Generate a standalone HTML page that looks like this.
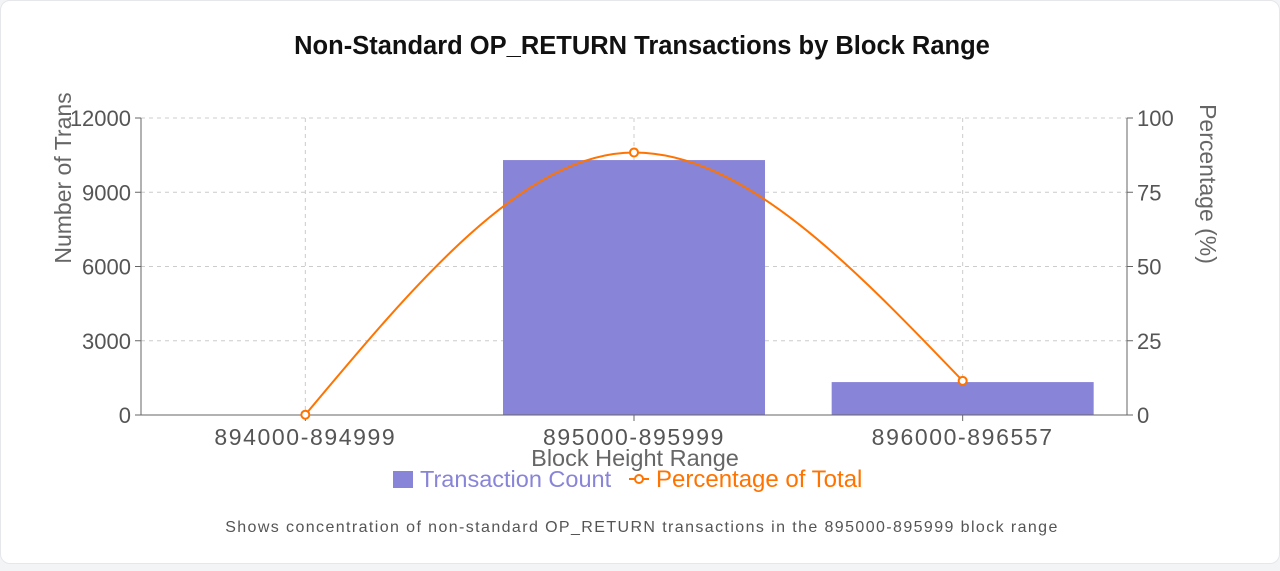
<!DOCTYPE html>
<html><head><meta charset="utf-8"><style>
body{margin:0;background:#f3f4f6;font-family:"Liberation Sans",sans-serif;}
.card{position:absolute;left:0;top:0;width:1278px;height:562px;background:#fff;border:1px solid #e5e7eb;border-radius:10px;}
</style></head><body>
<div class="card">
<svg width="1280" height="570" id="chart" style="position:absolute;left:0;top:0">
<text x="641" y="53" text-anchor="middle" font-size="25.5" font-weight="bold" fill="#111">Non-Standard OP_RETURN Transactions by Block Range</text>
<text x="641" y="531" text-anchor="middle" font-size="16" letter-spacing="1.4" fill="#555">Shows concentration of non-standard OP_RETURN transactions in the 895000-895999 block range</text>
</svg></div>
<script>
const categories=["894000-894999","895000-895999","896000-896557"];
const counts=[15,10300,1330];
const percents=[0.1,88.4,11.5];
const leftTicks=[0,3000,6000,9000,12000];
const rightTicks=[0,25,50,75,100];
const svg=document.getElementById('chart');
const NS='http://www.w3.org/2000/svg';
const X0=140,X1=1126,Y0=414,Y1=117;
const band=(X1-X0)/categories.length;
const xc=i=>X0+band*(i+0.5);
const yL=v=>Y0-(v/12000)*(Y0-Y1);
const yR=v=>Y0-(v/100)*(Y0-Y1);
function el(t,a,txt){const e=document.createElementNS(NS,t);for(const k in a)e.setAttribute(k,a[k]);if(txt!=null)e.textContent=txt;svg.appendChild(e);return e;}
leftTicks.forEach(v=>{const g=el('line',{x1:X0,x2:X1,y1:yL(v),y2:yL(v),stroke:'#ccc','stroke-dasharray':'4,4'});


const t=el('text',{x:X0-10,y:yL(v)+8,'text-anchor':'end','font-size':22,fill:'#555'},v);


el('line',{x1:X0-6,x2:X0,y1:yL(v),y2:yL(v),stroke:'#666'});});
rightTicks.forEach(v=>{const t=el('text',{x:X1+10,y:yR(v)+8,'font-size':22,fill:'#555'},v);


el('line',{x1:X1,x2:X1+6,y1:yR(v),y2:yR(v),stroke:'#666'});});
categories.forEach((c,i)=>{const g=el('line',{x1:xc(i),x2:xc(i),y1:Y1,y2:Y0,stroke:'#ccc','stroke-dasharray':'4,4'});

});
categories.forEach((c,i)=>{const b=el('rect',{x:xc(i)-131,y:yL(counts[i]),width:262,height:Y0-yL(counts[i]),fill:'#8884d8'});


el('line',{x1:xc(i),x2:xc(i),y1:Y0,y2:Y0+6,stroke:'#666'});
const t=el('text',{x:xc(i),y:Y0+30,'text-anchor':'middle','font-size':23,'letter-spacing':1.6,fill:'#555'},c);

});
el('line',{x1:X0,x2:X0,y1:Y1,y2:Y0,stroke:'#666'});
el('line',{x1:X1,x2:X1,y1:Y1,y2:Y0,stroke:'#666'});
el('line',{x1:X0,x2:X1,y1:Y0,y2:Y0,stroke:'#666'});
const pts=percents.map((p,i)=>[xc(i),yR(p)]);
const n=pts.length,s=[],t=[];
for(let i=0;i<n-1;i++)s.push((pts[i+1][1]-pts[i][1])/(pts[i+1][0]-pts[i][0]));
for(let i=1;i<n-1;i++){t[i]=(s[i-1]*s[i]<=0)?0:(s[i-1]+s[i])/2;}
t[0]=(3*s[0]-(t[1]||0))/2;t[n-1]=(3*s[n-2]-(t[n-2]||0))/2;
let d='M'+pts[0][0]+','+pts[0][1];
for(let i=0;i<n-1;i++){const h=(pts[i+1][0]-pts[i][0])/3;
d+=' C'+(pts[i][0]+h)+','+(pts[i][1]+h*t[i])+' '+(pts[i+1][0]-h)+','+(pts[i+1][1]-h*t[i+1])+' '+pts[i+1][0]+','+pts[i+1][1];}
const ln=el('path',{d:d,fill:'none',stroke:'#ff7300','stroke-width':2});


pts.forEach(p=>{const c=el('circle',{cx:p[0],cy:p[1],r:4,fill:'#fff',stroke:'#ff7300','stroke-width':2});

});
const ya=el('text',{x:0,y:0,transform:'translate(70,177) rotate(-90)','text-anchor':'middle','font-size':23,fill:'#666'},'Number of Trans');


const yb=el('text',{x:0,y:0,transform:'translate(1199,183) rotate(90)','text-anchor':'middle','font-size':23,fill:'#666'},'Percentage (%)');


const xa=el('text',{x:634,y:465,'text-anchor':'middle','font-size':23.5,fill:'#666'},'Block Height Range');


const l1=el('rect',{x:392,y:470,width:20,height:17,fill:'#8884d8'});


const l2=el('text',{x:419,y:486,'font-size':23.5,fill:'#8884d8'},'Transaction Count');


el('line',{x1:628,x2:648,y1:478,y2:478,stroke:'#ff7300','stroke-width':2});
el('circle',{cx:638,cy:478,r:4,fill:'#fff',stroke:'#ff7300','stroke-width':2});
const l3=el('text',{x:655,y:486,'font-size':24,fill:'#ff7300'},'Percentage of Total');


</script>
</body></html>
